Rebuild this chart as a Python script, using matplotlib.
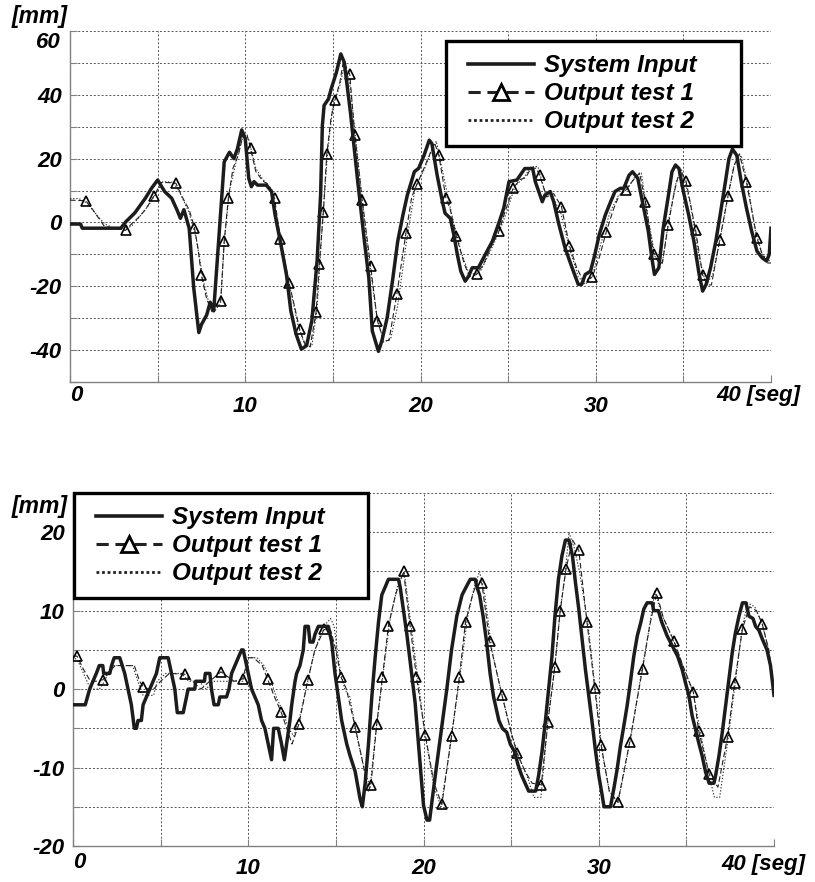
import numpy as np
import matplotlib
matplotlib.use("Agg")
import matplotlib.pyplot as plt
from matplotlib.lines import Line2D
from matplotlib.legend_handler import HandlerLine2D

# ---------------- data: top panel ----------------
top_input = [(0, -0.5), (0.6, -0.5), (0.7, -1.8), (2.9, -1.8), (3.2, 0.3), (3.7, 3), (4.3, 7.6),
             (4.65, 10.7), (5.0, 13.3), (5.4, 9.7), (5.8, 7.6), (6.1, 4), (6.3, 1.3), (6.5, 4),
             (6.8, -1.8), (7.06, -20.5), (7.35, -34.5), (7.5, -32), (7.8, -29), (8.0, -25),
             (8.2, -27.7), (8.4, -12), (8.6, 3.4), (8.8, 19), (9.1, 22), (9.35, 20), (9.55, 23),
             (9.8, 29), (10.0, 26.3), (10.2, 13.8), (10.35, 11.2), (10.5, 12.8), (10.7, 11.7),
             (11.2, 11.7), (11.5, 9.7), (11.7, 2.4), (12.0, -5.9), (12.35, -16.3), (12.6, -27.7),
             (12.9, -35), (13.2, -39.7), (13.5, -38.6), (13.8, -30.8), (14.1, -12), (14.3, 8.6),
             (14.4, 30.4), (14.5, 36.7), (14.75, 38.7), (14.9, 41.8), (15.2, 47), (15.45, 52.8),
             (15.65, 50.2), (16.0, 34.6), (16.4, 13.8), (16.8, -5.9), (17.05, -17.3), (17.25, -34),
             (17.6, -40.4), (17.8, -37), (18.1, -29.8), (18.4, -18.4), (18.7, -5.9), (19.0, 2.4),
             (19.25, 8.6), (19.65, 15.9), (19.9, 17), (20.2, 21), (20.5, 25.8), (20.65, 24.7),
             (20.95, 14.8), (21.25, 6.5), (21.4, 2.9), (21.7, 1.3), (21.9, -3.8), (22.1, -10),
             (22.3, -15.3), (22.55, -18.4), (22.75, -16.8), (22.95, -14.2), (23.3, -14.2),
             (23.7, -10), (24.1, -5.9), (24.5, 0.3), (24.75, 4.5), (25.05, 12.8), (25.5, 13.3),
             (25.95, 16.9), (26.4, 16.9), (26.55, 12.8), (26.95, 6.5), (27.1, 8.6), (27.4, 9.7),
             (27.6, 6.5), (27.9, -0.7), (28.25, -8), (28.65, -14.2), (29.0, -19.4), (29.2, -19.4),
             (29.4, -16.3), (29.7, -15.3), (29.95, -10), (30.2, -3.8), (30.55, 2.4), (30.85, 6.5),
             (31.1, 9.7), (31.4, 10.7), (31.6, 10.7), (31.9, 14.8), (32.1, 15.9), (32.4, 13.8),
             (32.7, 5.5), (33.0, -2.8), (33.2, -11.1), (33.35, -16.3), (33.6, -14.2), (33.85, -1.8),
             (34.15, 8.6), (34.35, 15.9), (34.55, 18), (34.75, 16.9), (35.0, 9.7), (35.3, 2.4),
             (35.6, -5.9), (35.9, -16.3), (36.1, -21.5), (36.3, -19.4), (36.55, -14.2), (36.85, -5.9),
             (37.1, 2.4), (37.4, 12.8), (37.6, 20), (37.8, 23), (38.05, 21), (38.3, 12.8), (38.6, 4.5),
             (38.9, -2.8), (39.2, -9), (39.5, -11.1), (39.75, -12.1), (39.9, -10), (40.0, -1.8)]

top_out1 = [(0, 7.0), (0.9, 6.8), (1.3, 4), (1.96, -1.2), (2.5, -1.8), (3.17, -2.5), (3.5, -0.5),
            (3.9, 1.5), (4.3, 4), (4.8, 8.4), (5.2, 12.5), (5.6, 12.5), (6.04, 12.3), (6.4, 8),
            (6.8, 4), (7.1, -1.6), (7.3, -8), (7.5, -16.6), (7.8, -24), (8.1, -28), (8.3, -26),
            (8.6, -24.6), (8.8, -5.9), (9.04, 7.8), (9.3, 17), (9.6, 21), (9.9, 28), (10.1, 27.5),
            (10.3, 23.2), (10.6, 16), (11.0, 13), (11.3, 12), (11.67, 7.6), (12.0, -5.1),
            (12.5, -18.9), (12.8, -26), (13.1, -33.4), (13.4, -38), (13.7, -39), (14.04, -28.2),
            (14.23, -13), (14.46, 3.4), (14.65, 21.3), (14.9, 33), (15.13, 38.4), (15.4, 44),
            (15.6, 50.5), (15.96, 46.5), (16.25, 27.5), (16.67, 7.1), (17.15, -13.5), (17.54, -30.8),
            (17.9, -37), (18.2, -37), (18.65, -22.5), (19.17, -3.3), (19.5, 8), (19.8, 12),
            (20.2, 17), (20.5, 21), (20.8, 25), (21.05, 21), (21.45, 7.6), (21.7, 4), (22.05, -4.4),
            (22.5, -13), (22.8, -17), (23.2, -16.3), (23.6, -13), (24.0, -8), (24.47, -2.8),
            (24.8, 3), (25.3, 10.9), (25.7, 13.5), (26.0, 14), (26.3, 17), (26.6, 17), (26.8, 14.8),
            (27.2, 8), (27.6, 9), (28.04, 5), (28.5, -7.3), (28.9, -14), (29.3, -18.5), (29.8, -17.1),
            (30.2, -11), (30.6, -3), (31.0, 4), (31.3, 8), (31.73, 10.2), (32.1, 13), (32.5, 15.5),
            (32.83, 6.5), (33.3, -9.8), (33.6, -12.7), (33.8, -12.7), (34.13, -0.9), (34.5, 10),
            (34.8, 16.5), (35.15, 13), (35.7, -2.5), (36.1, -16.5), (36.4, -19.6), (36.6, -19.6),
            (37.07, -5.6), (37.55, 8.4), (37.9, 18), (38.2, 21.5), (38.6, 12.6), (39.2, -4.9),
            (39.5, -10), (39.8, -12.7), (40, -12.7)]

top_out1_marks = [0.9, 3.17, 4.8, 6.04, 7.1, 7.5, 8.6, 8.8, 9.04, 10.3, 11.67, 12.0, 12.5, 13.1,
                  14.04, 14.23, 14.46, 14.65, 15.13, 15.96, 16.25, 16.67, 17.15, 17.54, 18.65,
                  19.17, 19.8, 21.05, 21.45, 22.05, 23.2, 24.47, 25.3, 26.8, 28.04, 28.5, 29.8,
                  30.6, 31.73, 32.83, 33.3, 34.13, 35.15, 35.7, 36.1, 37.07, 37.55, 38.6, 39.2]

top_out2 = [(0, 7.5), (0.5, 7.5), (1.0, 6), (1.5, 2.5), (2.0, -0.5), (2.5, -1.8), (3.0, -2.2),
            (3.5, -1.2), (4.0, 2.0), (4.5, 5.5), (5.0, 10), (5.3, 12.8), (5.9, 12.6), (6.3, 9),
            (6.8, 3), (7.2, -5), (7.6, -18), (8.0, -27), (8.3, -27.5), (8.6, -25), (8.8, -6),
            (9.1, 10), (9.5, 19.5), (9.9, 27.5), (10.2, 26), (10.6, 17), (11.0, 13.5), (11.5, 10.5),
            (12.0, -4), (12.5, -19), (13.0, -32), (13.4, -38.5), (13.8, -38.8), (14.1, -27),
            (14.4, 0), (14.7, 22), (15.0, 36.5), (15.4, 43), (15.7, 50), (16.0, 42), (16.5, 16),
            (17.0, -9), (17.5, -29), (17.9, -37.5), (18.3, -36.5), (18.7, -26), (19.2, -6),
            (19.7, 11), (20.2, 16.5), (20.6, 22), (20.9, 25.5), (21.3, 15), (21.8, 2), (22.3, -9),
            (22.8, -16.5), (23.4, -15.5), (23.9, -10), (24.4, -4), (24.9, 3), (25.4, 11.5),
            (25.9, 14), (26.3, 17.5), (26.7, 17.5), (27.1, 9.5), (27.5, 8.5), (28.0, 3), (28.5, -8),
            (29.0, -17), (29.4, -19.4), (29.8, -17), (30.3, -6.5), (30.8, 3), (31.3, 8.5),
            (31.8, 10.5), (32.2, 14), (32.6, 15.5), (33.0, 1), (33.4, -11), (33.8, -12.7), (34.2, 2),
            (34.6, 13), (34.9, 16.5), (35.4, 6), (35.9, -11), (36.3, -19.6), (36.7, -16), (37.1, -5),
            (37.5, 7), (37.9, 18), (38.3, 21), (38.7, 11), (39.1, -2.5), (39.5, -10), (40, -12.5)]

# ---------------- data: bottom panel ----------------
bot_input = [(0, -2), (0.7, -2), (0.95, 0), (1.14, 1), (1.33, 2), (1.5, 3), (1.7, 3), (1.75, 2),
             (2.1, 2), (2.2, 3), (2.35, 4), (2.67, 4), (2.95, 2), (3.14, 0), (3.33, -2), (3.5, -5),
             (3.62, -5), (3.71, -4), (3.9, -4), (4.0, -2), (4.19, -1), (4.38, 0), (4.57, 1),
             (4.76, 2), (4.95, 4), (5.43, 4), (5.62, 2), (5.81, 0), (5.95, -3), (6.29, -3),
             (6.48, -1), (6.57, 0), (6.95, 0), (7.0, 1), (7.5, 1), (7.55, 2), (7.81, 2), (7.9, 0),
             (8.05, -2), (8.29, -2), (8.38, -1), (8.76, -1), (8.9, 0), (9.05, 2), (9.24, 3),
             (9.43, 4), (9.62, 5), (9.71, 5), (9.81, 4), (10.0, 2), (10.19, 0), (10.38, -1),
             (10.57, -2), (10.76, -4), (10.95, -5), (11.14, -7), (11.33, -9), (11.45, -5),
             (11.71, -5), (11.9, -7), (12.06, -9), (12.19, -7), (12.38, -4), (12.48, -2), (12.67, 1),
             (12.76, 2), (12.95, 3), (13.14, 5), (13.24, 8), (13.43, 8), (13.52, 6), (13.7, 6),
             (13.81, 7), (14.0, 8), (14.57, 8), (14.76, 6), (14.95, 2), (15.14, -1), (15.33, -4),
             (15.62, -7), (15.81, -8.5), (16.1, -10.5), (16.38, -14), (16.51, -15), (16.67, -12),
             (16.86, -7), (17.05, -1), (17.24, 4), (17.43, 8.5), (17.62, 12), (17.81, 13), (18.0, 14),
             (18.57, 14), (18.67, 13), (18.86, 10), (19.05, 7), (19.24, 3.5), (19.52, -1.7),
             (19.81, -9.7), (20.0, -14.8), (20.2, -16.7), (20.35, -16.7), (20.5, -14), (20.75, -9.7),
             (21.05, -4.7), (21.33, 0), (21.6, 5), (21.9, 9.3), (22.2, 12), (22.5, 13.3), (22.67, 14),
             (22.95, 14), (23.05, 13), (23.2, 12), (23.4, 9.3), (23.6, 6), (23.8, 2), (24.0, -1),
             (24.3, -4), (24.5, -5), (24.75, -5.5), (24.95, -7), (25.2, -8), (25.4, -9.7), (25.6, -11),
             (25.8, -12), (26.0, -13), (26.4, -13), (26.57, -11), (26.76, -8), (26.95, -4.2),
             (27.14, 0), (27.33, 4.2), (27.5, 9.3), (27.7, 14), (27.9, 17), (28.1, 19), (28.3, 19),
             (28.5, 17), (28.67, 13.6), (28.86, 10.2), (29.05, 6.4), (29.24, 2.5), (29.43, -0.8),
             (29.62, -4.2), (29.8, -7.6), (30.0, -11), (30.2, -13.6), (30.3, -15), (30.67, -15),
             (30.86, -12.7), (31.05, -10.2), (31.24, -7.2), (31.43, -4.7), (31.62, -2.1), (31.8, 0.8),
             (32.0, 4.2), (32.2, 6.8), (32.4, 8.5), (32.57, 10.2), (32.76, 11), (33.05, 11),
             (33.14, 10), (33.4, 10), (33.6, 8.5), (33.9, 6.8), (34.2, 5.5), (34.5, 4.2),
             (34.76, 2.5), (34.95, 0.8), (35.14, -0.8), (35.33, -3.4), (35.52, -5.1), (35.7, -6.8),
             (35.9, -8.5), (36.1, -10.6), (36.3, -12), (36.57, -12), (36.67, -11), (36.86, -8.5),
             (37.05, -5.5), (37.24, -2.1), (37.43, 1.3), (37.62, 4.7), (37.8, 7.2), (38.0, 9.3),
             (38.2, 11), (38.4, 11), (38.57, 9.3), (38.8, 9), (38.95, 8), (39.14, 7.5), (39.33, 6.4),
             (39.6, 5), (39.8, 3), (40.0, -0.8)]

bot_out1 = [(0, 4.2), (0.23, 4.2), (0.6, 2.5), (1.0, 1), (1.3, 1), (1.71, 1.2), (2.0, 2), (2.4, 3),
            (3.5, 3), (3.8, 1), (4.0, 0.3), (4.3, 0), (4.6, 0), (5.0, 1), (5.5, 2), (6.38, 1.9),
            (6.8, 1), (7.3, 0), (7.8, 1), (8.44, 2.2), (9.2, 1), (9.68, 1.3), (10.0, 4), (10.3, 4),
            (10.8, 3), (11.1, 1.3), (11.5, -1), (11.87, -2.9), (12.2, -5), (12.5, -7), (12.9, -4.4),
            (13.4, 1.2), (13.8, 5), (14.32, 7.6), (14.7, 7.5), (15.0, 5), (15.28, 1.6), (15.6, 0),
            (16.1, -4.8), (16.5, -9), (16.85, -13), (17.0, -12.2), (17.33, -4.5), (17.66, 1.6),
            (18.0, 8.1), (18.4, 12), (18.86, 15), (19.24, 8), (19.6, 1.5), (20.1, -5.8),
            (20.6, -12), (21.05, -14.7), (21.6, -6), (22.04, 1.5), (22.4, 8.6), (22.8, 12),
            (23.1, 14), (23.33, 13.5), (23.77, 6.1), (24.48, -0.8), (25.0, -5.5), (25.33, -8.1),
            (25.8, -10.5), (26.2, -12), (26.72, -12.2), (27.1, -4.2), (27.49, 2.8), (27.8, 10),
            (28.13, 15.3), (28.5, 19), (28.86, 17.7), (29.33, 8.5), (29.77, 0.2), (30.13, -7.1),
            (30.6, -13), (31.09, -14.4), (31.77, -6.7), (32.5, 2.6), (32.9, 8), (33.3, 12.2),
            (33.7, 9), (34.3, 6.1), (34.8, 3), (35.4, -0.4), (35.7, -5.3), (36.3, -10.8),
            (36.8, -12.5), (37.35, -6.1), (37.75, 0.8), (38.2, 7.7), (38.6, 10.5), (39.0, 10),
            (39.33, 8.3), (39.7, 5), (40, 0)]

bot_out1_marks = [0.23, 1.71, 4.0, 6.38, 8.44, 9.68, 11.1, 11.87, 12.9, 13.4, 14.32, 15.28, 16.1,
                  17.0, 17.33, 17.66, 18.0, 18.86, 19.24, 19.6, 20.1, 21.05, 21.6, 22.04, 22.4,
                  23.33, 23.77, 24.48, 25.33, 26.72, 27.1, 27.49, 27.8, 28.13, 28.86, 29.33, 29.77,
                  30.13, 31.09, 31.77, 32.5, 33.3, 34.3, 35.4, 35.7, 36.3, 37.35, 37.75, 38.2, 39.33]

bot_out2 = [(0, 4.2), (0.3, 3.5), (0.6, 2), (1.0, 0), (1.5, 0), (1.8, 1), (2.2, 3), (3.4, 3),
            (3.7, 1), (4.0, -0.8), (4.6, -0.8), (4.8, 1), (5.3, 2), (6.2, 2), (6.6, 1), (7.2, 1),
            (7.6, 0), (8.0, 1), (8.5, 1), (9.0, 1), (9.7, 1), (10.0, 4), (10.5, 4), (10.9, 3),
            (11.3, 1), (11.6, -1), (12.0, -3), (12.3, -5), (12.6, -6), (13.0, -3), (13.4, 1),
            (13.8, 5), (14.3, 8), (14.7, 9), (14.9, 8), (15.2, 3), (15.5, 0), (15.8, -1), (16.2, -6),
            (16.6, -10), (16.95, -12.5), (17.3, -5), (17.7, 2), (18.1, 9), (18.5, 13), (18.9, 15),
            (19.3, 8), (19.7, 1), (20.1, -6), (20.6, -12.5), (21.0, -15), (21.6, -6), (22.1, 2),
            (22.5, 9), (22.9, 13), (23.2, 15), (23.5, 12), (23.9, 5), (24.5, -1), (25.0, -5.5),
            (25.4, -8.5), (25.9, -11), (26.3, -13.8), (26.7, -13.8), (27.1, -4), (27.5, 3),
            (27.8, 10), (28.1, 15), (28.3, 20), (28.6, 18), (28.9, 15), (29.4, 8), (29.8, 0),
            (30.2, -8), (30.6, -13), (31.1, -14.5), (31.8, -6.5), (32.5, 3), (32.9, 8), (33.2, 12.5),
            (33.6, 9.5), (34.3, 6), (34.8, 3), (35.4, -0.5), (35.8, -5.5), (36.3, -11), (36.6, -13.8),
            (36.9, -13.8), (37.4, -6), (37.8, 1), (38.2, 8), (38.5, 11), (38.9, 10.5), (39.3, 8.5),
            (39.7, 5), (40, 0)]

legend_labels = ["System Input", "Output test 1", "Output test 2"]
x_tick_values = [0, 10, 20, 30, 40]
x_tick_labels = ["0", "10", "20", "30", "40 [seg]"]
top_ytick_labels = {-40: "-40", -20: "-20", 0: "0", 20: "20", 40: "40", 60: "60"}
bot_ytick_labels = {-20: "-20", -10: "-10", 0: "0", 10: "10", 20: "20"}
unit_label = "[mm]"

# ---------------- style ----------------
plt.rcParams["font.family"] = ["Liberation Sans", "DejaVu Sans"]
plt.rcParams["font.weight"] = "bold"
plt.rcParams["font.style"] = "italic"
plt.rcParams["font.size"] = 16

FS_TICK = 16
FS_LEG = 17.5
FS_UNIT = 16.5
DPI = 100
fig = plt.figure(figsize=(8.15, 8.82), dpi=DPI)
fig.patch.set_facecolor("white")

ax_top = fig.add_axes([70 / 815, 1 - 382 / 882, 701 / 815, 351 / 882])
ax_bot = fig.add_axes([73 / 815, 1 - 846 / 882, 701 / 815, 353 / 882])


def split(pairs):
    arr = np.array(pairs, dtype=float)
    return arr[:, 0], arr[:, 1]


def draw(ax, inp, out1, marks, out2, ylim, ystep, ylabels, xlab_offsets, legend_anchor,
         top_label_shift):
    ti, vi = split(inp)
    t1, v1 = split(out1)
    t2, v2 = split(out2)
    mev = list(np.flatnonzero(np.isin(np.round(t1, 3), np.round(marks, 3))))

    ax.plot(t2, v2, color="#333333", lw=0.8, ls=(0, (1.2, 1.6)), zorder=3)
    ax.plot(t1, v1, color="#222222", lw=0.8, ls=(0, (5, 2.5)), marker="^", markevery=mev,
            ms=7, mfc="none", mec="black", mew=1.2, zorder=4)
    ax.plot(ti, vi, color="#1c1c1c", lw=2.5, solid_joinstyle="round", zorder=5)

    ax.set_xlim(0, 40)
    ax.set_ylim(*ylim)
    ax.set_xticks(np.arange(0, 40.1, 5))
    ax.set_xticklabels([])
    yt = np.arange(ylim[0], ylim[1] + 0.1, ystep)
    ax.set_yticks(yt)
    lab = []
    for v in yt:
        k = int(round(v))
        if top_label_shift and k == ylim[1]:
            lab.append("")
        else:
            lab.append(ylabels.get(k, ""))
    ax.set_yticklabels(lab)
    ax.tick_params(direction="in", length=5, width=0.8, color="#808080", pad=6,
                   labelsize=FS_TICK)
    ax.grid(True, ls=(0, (2, 2)), color="#555555", lw=0.7)
    ax.set_axisbelow(True)
    for s in ("top", "right"):
        ax.spines[s].set_visible(False)
    for s in ("left", "bottom"):
        ax.spines[s].set_color("#808080")
        ax.spines[s].set_linewidth(1.0)

    if top_label_shift:
        ax.annotate(ylabels[ylim[1]], xy=(0, ylim[1]), xycoords=ax.get_yaxis_transform(),
                    xytext=(-9, -top_label_shift), textcoords="offset pixels",
                    ha="right", va="center", fontsize=FS_TICK)

    for val, lab_txt, (dx, dy, ha) in zip(x_tick_values, x_tick_labels, xlab_offsets):
        ax.annotate(lab_txt, xy=(val, 0), xycoords=ax.get_xaxis_transform(),
                    xytext=(dx, dy), textcoords="offset pixels", ha=ha, va="top",
                    fontsize=FS_TICK, annotation_clip=False)

    handles = [
        Line2D([], [], color="#1c1c1c", lw=2.6),
        Line2D([], [], color="#222222", lw=2.2, ls=(0, (4, 2.2)), marker="^", ms=12,
               mfc="white", mec="black", mew=2.0),
        Line2D([], [], color="#222222", lw=2.0, ls=(0, (1, 1))),
    ]
    leg = ax.legend(handles, legend_labels, loc="upper left", bbox_to_anchor=legend_anchor,
                    mode="expand", borderaxespad=0, frameon=True, fancybox=False,
                    handlelength=3.05, handletextpad=0.45, labelspacing=0.2,
                    borderpad=0.55, fontsize=FS_LEG,
                    handler_map={Line2D: HandlerLine2D(xpad=0.35)})
    fr = leg.get_frame()
    fr.set_edgecolor("black")
    fr.set_linewidth(2.4)
    fr.set_facecolor("white")
    fr.set_alpha(1)
    leg.set_zorder(10)


draw(ax_top, top_input, top_out1, top_out1_marks, top_out2, (-50, 60), 10, top_ytick_labels,
     [(0, -3, "left"), (0, -14, "center"), (0, -14, "center"), (0, -14, "center"),
      (29, -3, "right")],
     (376 / 701, 0.675, 295 / 701, 0.2965), 11)
draw(ax_bot, bot_input, bot_out1, bot_out1_marks, bot_out2, (-20, 25), 5, bot_ytick_labels,
     [(0, -6, "left"), (0, -12, "center"), (0, -12, "center"), (0, -12, "center"),
      (31, -8, "right")],
     (1 / 701, 0.70, 294 / 701, 0.30), 0)

fig.text(12 / 815, 1 - 17 / 882, unit_label, ha="left", va="center", fontsize=FS_UNIT)
fig.text(12 / 815, 1 - 506 / 882, unit_label, ha="left", va="center", fontsize=FS_UNIT)

fig.savefig("out.png", dpi=DPI, facecolor="white")
